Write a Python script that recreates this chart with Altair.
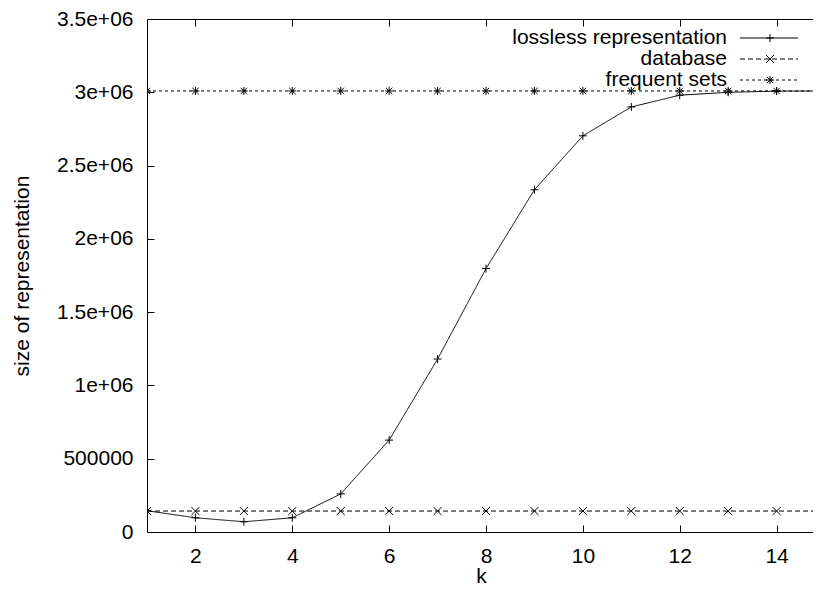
import altair as alt
import pandas as pd

# ---- data ----
k = [1, 2, 3, 4, 5, 6, 7, 8, 9, 10, 11, 12, 13, 14, 15]
lossless = [145000, 97000, 70000, 97000, 260000, 627000, 1180000, 1797000,
            2335000, 2703000, 2900000, 2980000, 3000000, 3008000, 3009000]
database = [143000, 143000, 143000, 143000, 143000, 143000, 143000, 143000,
            143000, 143000, 143000, 143000, 143000, 143000, 143000]
frequent = [3009000, 3009000, 3009000, 3009000, 3009000, 3009000, 3009000, 3009000,
            3009000, 3009000, 3009000, 3009000, 3009000, 3009000, 3009000]
series_names = ["lossless representation", "database", "frequent sets"]
x_ticks = [2, 4, 6, 8, 10, 12, 14]
y_ticks = [0, 500000, 1000000, 1500000, 2000000, 2500000, 3000000, 3500000]
x_domain = [1, 14.793]   # the reference image is cut before k = 15

rows = []
for name, vals in zip(series_names, [lossless, database, frequent]):
    for kk, v in zip(k, vals):
        rows.append({"k": kk, "size": v, "series": name})
df = pd.DataFrame(rows)

FONT = "Liberation Sans"
FS = 21
PLUS = "M-1,0L1,0M0,-1L0,1"
CROSS = "M-1,-1L1,1M-1,1L1,-1"
STAR = "M-1,0L1,0M0,-1L0,1M-0.8,-0.8L0.8,0.8M-0.8,0.8L0.8,-0.8"
shapes = [PLUS, CROSS, STAR]
dashes = [[1, 0], [5, 3], [3, 3]]

xscale = alt.Scale(domain=x_domain, nice=False, zero=False)
yscale = alt.Scale(domain=[0, 3500000], nice=False)

ylabel = ("datum.value == 0 ? '0' : datum.value < 1e6 ? format(datum.value, 'd') : "
          "format(datum.value / 1e6, '~g') + 'e+06'")

base = alt.Chart(df)

lines = base.mark_line(color="black", strokeWidth=1, clip=True).encode(
    x=alt.X("k:Q", scale=xscale, title="k",
            axis=alt.Axis(orient="bottom", values=x_ticks, offset=-7, tickSize=7,
                          domain=False, grid=False, labelPadding=13, format="d",
                          titleY=57, titleBaseline="alphabetic")),
    y=alt.Y("size:Q", scale=yscale, title="size of representation",
            axis=alt.Axis(orient="left", values=y_ticks, offset=-7, tickSize=7,
                          domain=False, grid=False, labelPadding=14, labelExpr=ylabel,
                          titleX=-132, titleBaseline="middle")),
    strokeDash=alt.StrokeDash("series:N", scale=alt.Scale(domain=series_names, range=dashes),
                              legend=None),
    detail="series:N",
)

points = base.mark_point(filled=False, color="black", strokeWidth=1, opacity=1,
                         size=64, clip=True).encode(
    x=alt.X("k:Q", scale=xscale, axis=None),
    y=alt.Y("size:Q", scale=yscale, axis=None),
    shape=alt.Shape("series:N", scale=alt.Scale(domain=series_names, range=shapes),
                    legend=None),
)

mirror = base.mark_point(opacity=0).encode(
    x=alt.X("k:Q", scale=xscale,
            axis=alt.Axis(orient="top", values=x_ticks, offset=-7, tickSize=7,
                          domain=False, grid=False, labels=False, title=None)),
    y=alt.Y("size:Q", scale=yscale, axis=None),
)

# ---- gnuplot-style key (top right, labels left of samples) ----
legend_layers = []
key_y = [19, 40, 61]
for name, dash, shp, yy in zip(series_names, dashes, shapes, key_y):
    one = alt.Data(values=[{"label": name}])
    legend_layers.append(
        alt.Chart(one).mark_text(align="right", baseline="middle", font=FONT,
                                 fontSize=FS, color="black").encode(
            x=alt.value(580), y=alt.value(yy), text="label:N"))
    legend_layers.append(
        alt.Chart(one).mark_rule(color="black", strokeWidth=1, strokeDash=dash).encode(
            x=alt.value(593), x2=alt.value(651), y=alt.value(yy)))
    legend_layers.append(
        alt.Chart(one).mark_point(shape=shp, filled=False, color="black", strokeWidth=1,
                                  opacity=1, size=64).encode(
            x=alt.value(623), y=alt.value(yy)))

chart = alt.layer(lines, points, mirror, *legend_layers).resolve_axis(
    x="independent", y="independent"
).properties(
    width=668, height=513,
    autosize=alt.AutoSizeParams(type="none"),
    padding={"left": 139, "top": 11, "right": -2, "bottom": 55},
    background="white",
).configure_view(
    stroke="black", strokeWidth=1
).configure_axis(
    labelFont=FONT, labelFontSize=FS, labelColor="black",
    titleFont=FONT, titleFontSize=FS, titleFontWeight="normal", titleColor="black",
    tickColor="black", tickWidth=1,
)

chart.save("out.html", embed_options={"renderer": "svg", "actions": False})
